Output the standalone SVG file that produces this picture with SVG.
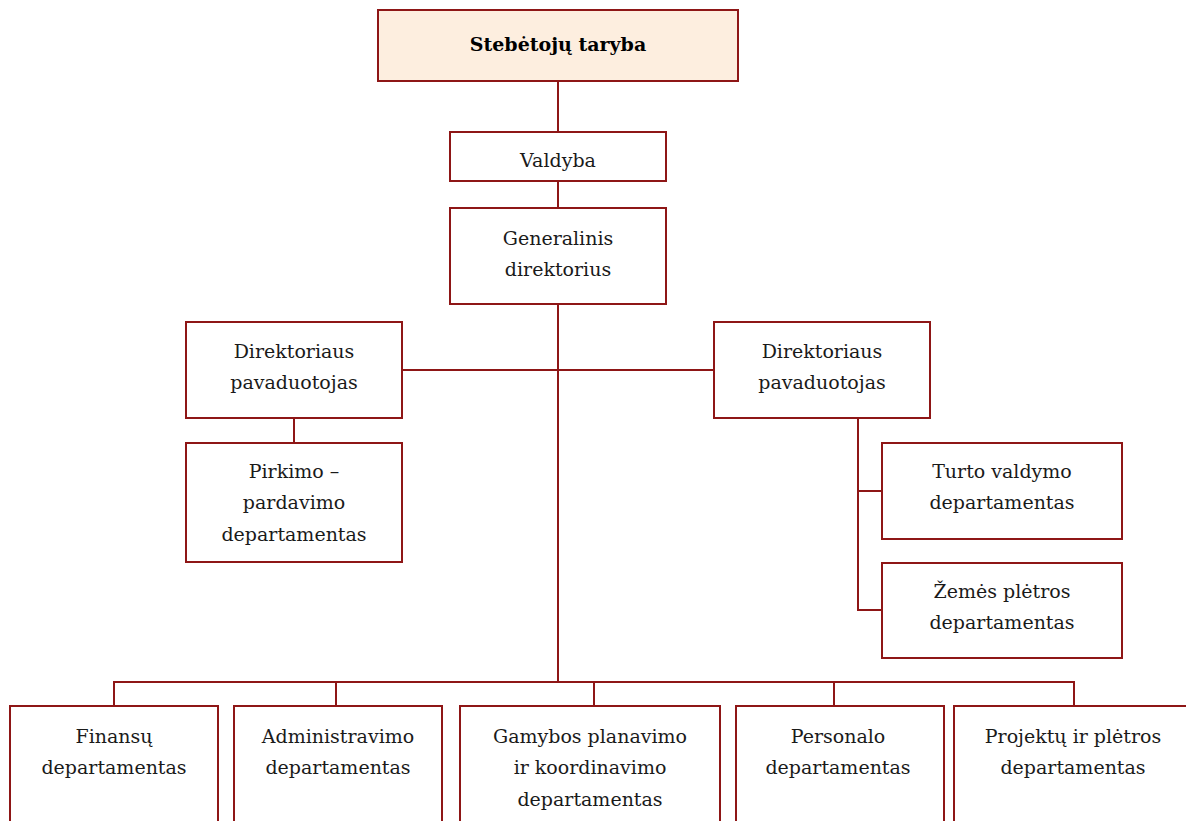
<svg xmlns="http://www.w3.org/2000/svg" width="1186" height="821" viewBox="0 0 1186 821">
<style>
.box{fill:#ffffff;stroke:#8e1616;stroke-width:2}
.top{fill:#fdeedf;stroke:#8e1616;stroke-width:2}
.ln{fill:none;stroke:#8e1616;stroke-width:2}
text{font-family:"DejaVu Serif","Liberation Serif",serif;font-size:19px;fill:#1a1a1a;text-anchor:middle}
.b{font-weight:bold;font-size:19px;fill:#000}
</style>
<rect width="1186" height="821" fill="#ffffff"/>
<g id="connectors">
<path class="ln" d="M558,81V132"/>
<path class="ln" d="M558,181V208"/>
<path class="ln" d="M558,304V682"/>
<path class="ln" d="M402,370H714"/>
<path class="ln" d="M294,418V443"/>
<path class="ln" d="M858,418V610H882M858,491H882"/>
<path class="ln" d="M114,706V682H1074V706M336,682V706M594,682V706M834,682V706"/>
</g>
<g id="n-steb"><rect class="top" x="378" y="10" width="360" height="71"/><text class="b" x="558" y="51">Stebėtojų taryba</text></g>
<g id="n-valdyba"><rect class="box" x="450" y="132" width="216" height="49"/><text x="558" y="167">Valdyba</text></g>
<g id="n-gen"><rect class="box" x="450" y="208" width="216" height="96"/><text x="558" y="245">Generalinis</text><text x="558" y="276">direktorius</text></g>
<g id="n-dp1"><rect class="box" x="186" y="322" width="216" height="96"/><text x="294" y="358">Direktoriaus</text><text x="294" y="389">pavaduotojas</text></g>
<g id="n-pirk"><rect class="box" x="186" y="443" width="216" height="119"/><text x="294" y="478">Pirkimo –</text><text x="294" y="509">pardavimo</text><text x="294" y="541">departamentas</text></g>
<g id="n-dp2"><rect class="box" x="714" y="322" width="216" height="96"/><text x="822" y="358">Direktoriaus</text><text x="822" y="389">pavaduotojas</text></g>
<g id="n-turto"><rect class="box" x="882" y="443" width="240" height="96"/><text x="1002" y="478">Turto valdymo</text><text x="1002" y="509">departamentas</text></g>
<g id="n-zemes"><rect class="box" x="882" y="563" width="240" height="95"/><text x="1002" y="598">Žemės plėtros</text><text x="1002" y="629">departamentas</text></g>
<g id="n-fin"><rect class="box" x="10" y="706" width="208" height="130"/><text x="114" y="743">Finansų</text><text x="114" y="774">departamentas</text></g>
<g id="n-adm"><rect class="box" x="234" y="706" width="208" height="130"/><text x="338" y="743">Administravimo</text><text x="338" y="774">departamentas</text></g>
<g id="n-gam"><rect class="box" x="460" y="706" width="260" height="130"/><text x="590" y="743">Gamybos planavimo</text><text x="590" y="774">ir koordinavimo</text><text x="590" y="806">departamentas</text></g>
<g id="n-pers"><rect class="box" x="736" y="706" width="208" height="130"/><text x="838" y="743">Personalo</text><text x="838" y="774">departamentas</text></g>
<g id="n-proj"><rect class="box" x="954" y="706" width="240" height="130"/><text x="1073" y="743">Projektų ir plėtros</text><text x="1073" y="774">departamentas</text></g>
</svg>
